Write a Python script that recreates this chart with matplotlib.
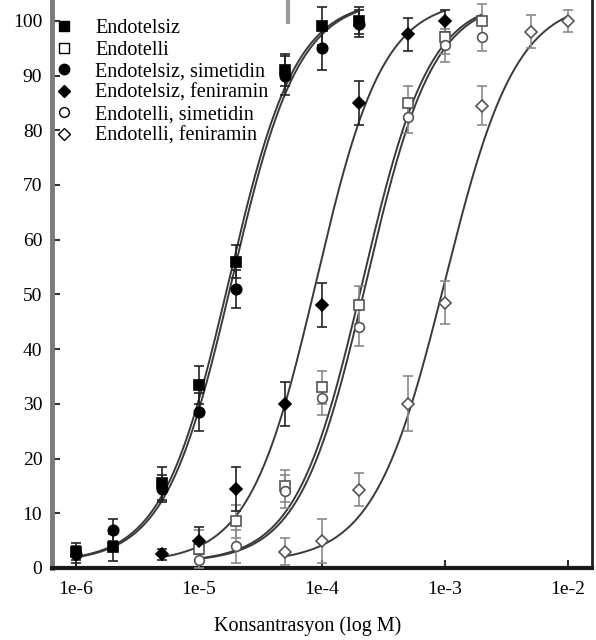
import numpy as np
import matplotlib
matplotlib.use("Agg")
import matplotlib.pyplot as plt
from matplotlib.lines import Line2D

plt.rcParams['font.family'] = ['Liberation Serif', 'DejaVu Serif']

# ---------------- data ----------------
labels = ["Endotelsiz", "Endotelli", "Endotelsiz, simetidin",
          "Endotelsiz, feniramin", "Endotelli, simetidin", "Endotelli, feniramin"]

x_endotelsiz = [1e-6, 2e-6, 5e-6, 1e-5, 2e-5, 5e-5, 1e-4, 2e-4]
y_endotelsiz = [3.0, 3.8, 15.5, 33.5, 56.0, 91.0, 99.0, 100.0]
e_endotelsiz = [1.5, 2.5, 3.0, 3.5, 3.0, 3.0, 3.5, 2.5]

x_endotelli = [1e-5, 2e-5, 5e-5, 1e-4, 2e-4, 5e-4, 1e-3, 2e-3]
y_endotelli = [3.5, 8.5, 15.0, 33.0, 48.0, 85.0, 97.0, 100.0]
e_endotelli = [3.5, 3.0, 3.0, 3.0, 3.5, 3.0, 3.0, 3.0]

x_sim = [1e-6, 2e-6, 5e-6, 1e-5, 2e-5, 5e-5, 1e-4, 2e-4]
y_sim = [2.5, 7.0, 14.5, 28.5, 51.0, 90.0, 95.0, 99.5]
e_sim = [1.5, 2.0, 2.5, 3.5, 3.5, 3.5, 4.0, 2.5]

x_fen = [5e-6, 1e-5, 2e-5, 5e-5, 1e-4, 2e-4, 5e-4, 1e-3]
y_fen = [2.5, 5.0, 14.5, 30.0, 48.0, 85.0, 97.5, 100.0]
e_fen = [1.0, 2.5, 4.0, 4.0, 4.0, 4.0, 3.0, 2.0]

x_esim = [1e-5, 2e-5, 5e-5, 1e-4, 2e-4, 5e-4, 1e-3, 2e-3]
y_esim = [1.5, 4.0, 14.0, 31.0, 44.0, 82.5, 95.5, 97.0]
e_esim = [2.0, 3.0, 3.0, 3.0, 3.5, 3.0, 3.0, 2.5]

x_efen = [5e-5, 1e-4, 2e-4, 5e-4, 1e-3, 2e-3, 5e-3, 1e-2]
y_efen = [3.0, 5.0, 14.3, 30.0, 48.5, 84.5, 98.0, 100.0]
e_efen = [2.5, 4.0, 3.0, 5.0, 4.0, 3.5, 3.0, 2.0]

# fitted sigmoid parameters (EC50, Hill slope), shared bottom/top
ec50 = [1.75e-5, 2.15e-4, 1.85e-5, 9.0e-5, 2.3e-4, 1.0e-3]
hill = [1.6, 1.6, 1.6, 1.6, 1.6, 1.5]
bottom, top = 1.0, 104.0

xs = [x_endotelsiz, x_endotelli, x_sim, x_fen, x_esim, x_efen]
ys = [y_endotelsiz, y_endotelli, y_sim, y_fen, y_esim, y_efen]
es = [e_endotelsiz, e_endotelli, e_sim, e_fen, e_esim, e_efen]

markers = ['s', 's', 'o', 'D', 'o', 'D']
filled = [True, False, True, True, False, False]
msizes = [7, 7, 7.5, 6, 7, 6.5]

xticks = [1e-6, 1e-5, 1e-4, 1e-3, 1e-2]
xticklabels = ['1e-6', '1e-5', '1e-4', '1e-3', '1e-2']
yticks = list(range(0, 101, 10))

# ---------------- figure ----------------
W, H = 596, 640
fig = plt.figure(figsize=(W / 100, H / 100), dpi=100)
ax = fig.add_axes([52 / W, 72 / H, 540 / W, 568 / H])
ax.set_xscale('log')
ax.set_xlim(10 ** -6.195, 10 ** -1.805)
ax.set_ylim(0, 103.8)

for i in range(6):
    x = np.array(xs[i])
    xx = np.logspace(np.log10(x.min()), np.log10(x.max()), 300)
    yy = bottom + (top - bottom) / (1 + (ec50[i] / xx) ** hill[i])
    ax.plot(xx, yy, color='#3a3a3a', lw=1.4, zorder=2)

for i in range(6):
    x = np.array(xs[i]); y = np.array(ys[i]); e = np.array(es[i])
    if filled[i]:
        fc, ec, bc = 'black', 'black', '#222222'
    else:
        fc, ec, bc = 'white', '#555555', '#8a8a8a'
    ax.errorbar(x, y, yerr=e, fmt='none', ecolor=bc, elinewidth=1.2,
                capsize=3.5, capthick=1.2, zorder=3)
    ax.plot(x, y, linestyle='none', marker=markers[i], ms=msizes[i],
            mfc=fc, mec=ec, mew=1.2, zorder=4)

ax.set_xticks(xticks)
ax.set_xticklabels(xticklabels)
ax.xaxis.set_minor_locator(matplotlib.ticker.NullLocator())
ax.set_yticks(yticks)
ax.tick_params(axis='both', direction='in', labelsize=14, length=6, width=1.5,
               color='#333333')
ax.tick_params(axis='x', pad=9)
ax.tick_params(axis='y', pad=7)

ax.spines['top'].set_visible(False)
ax.spines['left'].set_color('#7a7a7a')
ax.spines['left'].set_linewidth(3.5)
ax.spines['bottom'].set_color('#1a1a1a')
ax.spines['bottom'].set_linewidth(3)
ax.spines['right'].set_color('#222222')
ax.spines['right'].set_linewidth(2)

fig.text(308 / W, 1 - 626 / H, 'Konsantrasyon (log M)', ha='center', va='center',
         fontsize=14.5)

handles = []
for i in range(6):
    fc = 'black' if filled[i] else 'white'
    handles.append(Line2D([], [], linestyle='none', marker=markers[i], ms=msizes[i],
                          mfc=fc, mec='black', mew=1.0))
ax.legend(handles, labels, loc='upper left', bbox_to_anchor=(0.0074, 0.9665),
          frameon=False, fontsize=14.5, handlelength=0.8, handletextpad=1.15,
          labelspacing=0.12, borderaxespad=0.0, borderpad=0.0)

fig.add_artist(Line2D([288 / W, 288 / W], [1.0, 1 - 22 / H], color='#999999', lw=3,
                      transform=fig.transFigure))

fig.savefig('out.png', dpi=100)
